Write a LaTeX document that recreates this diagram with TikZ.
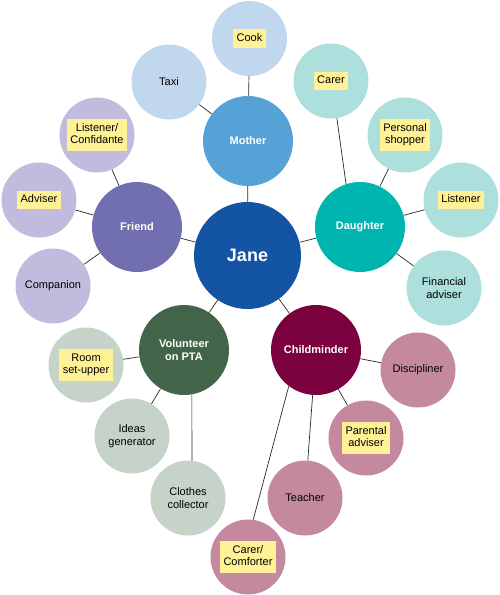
\documentclass[tikz,border=0pt]{standalone}
\usepackage{fontspec}
\setmainfont{Liberation Sans}
\definecolor{janec}{RGB}{20,84,165}
\definecolor{motherc}{RGB}{86,161,213}
\definecolor{motherlt}{RGB}{193,215,238}
\definecolor{daughterc}{RGB}{0,181,175}
\definecolor{daughterlt}{RGB}{173,223,220}
\definecolor{friendc}{RGB}{113,111,176}
\definecolor{friendlt}{RGB}{193,188,222}
\definecolor{volc}{RGB}{66,101,73}
\definecolor{vollt}{RGB}{197,211,200}
\definecolor{childc}{RGB}{122,0,62}
\definecolor{childlt}{RGB}{196,137,158}
\definecolor{yel}{RGB}{255,241,150}
\definecolor{linec}{RGB}{40,40,40}
\newcommand{\tagbox}[1]{{\setlength{\fboxsep}{3pt}\colorbox{yel}{\begin{tabular}{@{\hspace{0.5pt}}c@{\hspace{0.5pt}}}#1\end{tabular}}}}
\begin{document}
\begin{tikzpicture}[x=1pt,y=-1pt,
  every node/.style={circle,inner sep=0pt,align=center},
  mainc/.style={minimum size=90pt,font=\fontsize{11}{13.3}\selectfont\bfseries,text=white},
  subc/.style={minimum size=75pt,font=\fontsize{11}{12.7}\selectfont,text=black},
  conn/.style={draw=linec,line width=0.7pt}]
\useasboundingbox (0,0) rectangle (500,595);
% centre
\node[fill=janec,minimum size=107pt,text=white,font=\fontsize{18}{20}\selectfont\bfseries] (jane) at (247.5,255.5) {Jane};
% main roles
\node[mainc,fill=motherc] (mother) at (248,141) {Mother};
\node[mainc,fill=daughterc] (daughter) at (360,227) {Daughter};
\node[mainc,fill=friendc] (friend) at (137,227) {Friend};
\node[mainc,fill=volc] (vol) at (184,350) {Volunteer\\on PTA};
\node[mainc,fill=childc] (child) at (316,350) {Childminder};
% mother
\node[subc,fill=motherlt] (cook) at (249.5,38.5) {\tagbox{Cook}};
\node[subc,fill=motherlt] (taxi) at (169,82) {Taxi};
% daughter
\node[subc,fill=daughterlt] (carer) at (331,81) {\tagbox{Carer}};
\node[subc,fill=daughterlt] (shopper) at (405,135) {\tagbox{Personal\\shopper}};
\node[subc,fill=daughterlt] (listener) at (461,200) {\tagbox{Listener}};
\node[subc,fill=daughterlt] (financial) at (444,288) {Financial\\adviser};
% friend
\node[subc,fill=friendlt] (confidante) at (97,135) {\tagbox{Listener/\\Confidante}};
\node[subc,fill=friendlt] (adviser) at (39,200) {\tagbox{Adviser}};
\node[subc,fill=friendlt] (companion) at (53,286) {Companion};
% volunteer
\node[subc,fill=vollt] (room) at (86,365) {\tagbox{Room\\set-upper}};
\node[subc,fill=vollt] (ideas) at (132,436) {Ideas\\generator};
\node[subc,fill=vollt] (clothes) at (188,498) {Clothes\\collector};
% childminder
\node[subc,fill=childlt] (discipliner) at (418,370) {Discipliner};
\node[subc,fill=childlt] (parental) at (366,438) {\tagbox{Parental\\adviser}};
\node[subc,fill=childlt] (teacher) at (305,498) {Teacher};
\node[subc,fill=childlt] (comforter) at (248,557) {\tagbox{Carer/\\Comforter}};
% connectors
\draw[conn] (jane) -- (mother);
\draw[conn] (jane) -- (daughter);
\draw[conn] (jane) -- (friend);
\draw[conn] (jane) -- (vol);
\draw[conn] (jane) -- (child);
\draw[conn] (mother) -- (cook);
\draw[conn] (mother) -- (taxi);
\draw[conn] (daughter.108) -- (carer.279);
\draw[conn] (daughter) -- (shopper);
\draw[conn] (daughter) -- (listener);
\draw[conn] (daughter) -- (financial);
\draw[conn] (friend) -- (confidante);
\draw[conn] (friend) -- (adviser);
\draw[conn] (friend) -- (companion);
\draw[conn] (vol) -- (room);
\draw[conn] (vol) -- (ideas);
\draw[conn] (vol.280) -- (clothes.84);
\draw[conn] (child) -- (discipliner);
\draw[conn] (child) -- (parental);
\draw[conn] (child) -- (teacher);
\draw[conn] (child.233) -- (comforter.82);
\end{tikzpicture}
\end{document}
